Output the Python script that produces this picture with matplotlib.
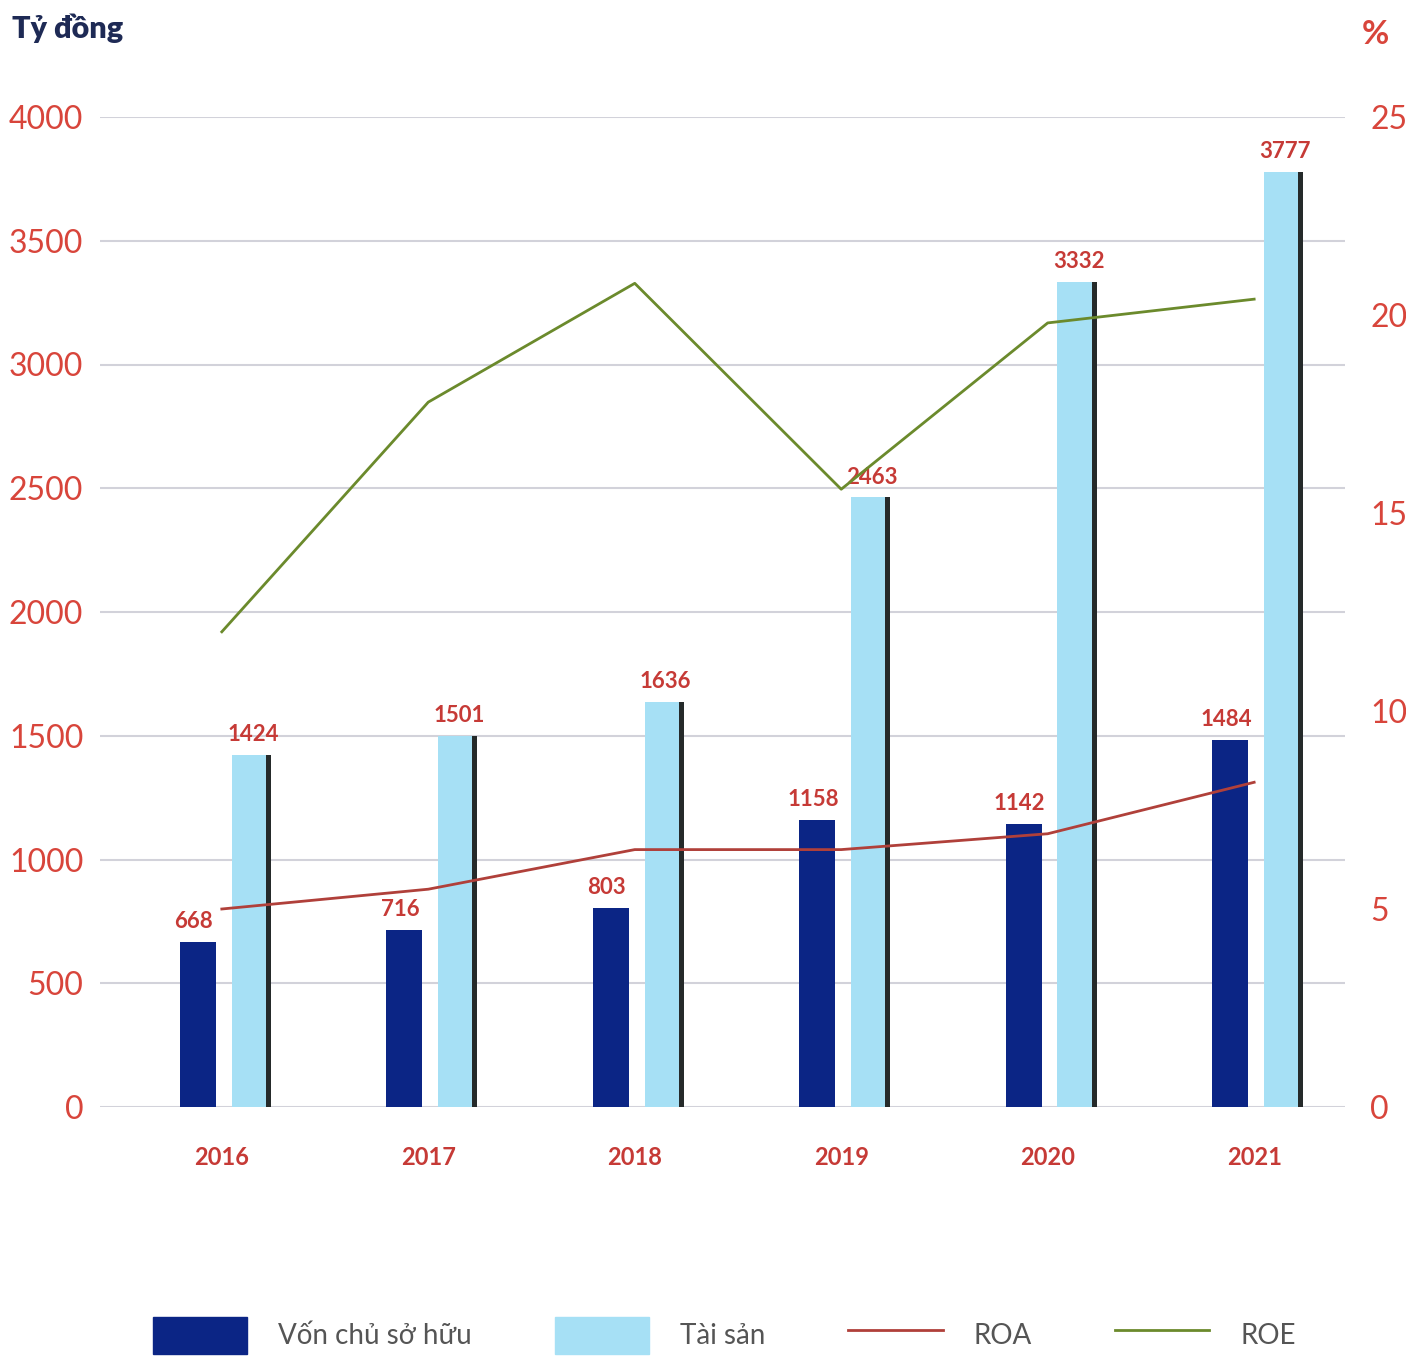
import numpy as np
import matplotlib.pyplot as plt
from matplotlib.patches import Patch
from matplotlib.lines import Line2D

# Data
years = ['2016', '2017', '2018', '2019', '2020', '2021']
equity = [668, 716, 803, 1158, 1142, 1484]      # Vốn chủ sở hữu (tỷ đồng)
assets = [1424, 1501, 1636, 2463, 3332, 3777]   # Tài sản (tỷ đồng)
roa = [5.0, 5.5, 6.5, 6.5, 6.9, 8.2]            # %
roe = [12.0, 17.8, 20.8, 15.6, 19.8, 20.4]      # %
left_ticks = [0, 500, 1000, 1500, 2000, 2500, 3000, 3500, 4000]
right_ticks = [0, 5, 10, 15, 20, 25]

navy = '#0b2585'
light = '#a6e0f5'
red = '#d8453b'
lbl_red = '#c63a36'
roa_col = '#b0403a'
roe_col = '#6b8a2c'

plt.rcParams['font.family'] = ['Lato', 'DejaVu Sans']

fig = plt.figure(figsize=(14.06, 13.57), dpi=100)
ax = fig.add_axes([100/1406, 250/1357, 1245/1406, 990/1357])
ax2 = ax.twinx()

x = np.arange(len(years))
w_dark = 0.174
w_light = 0.165
off_dark = -0.116
off_light = 0.13

ax.bar(x + off_dark, equity, w_dark, color=navy, zorder=3)
ax.bar(x + off_light, assets, w_light, color=light, zorder=3)
# dark shadow on the right side of the asset bars
ax.bar(x + off_light + w_light/2 + 0.012, assets, 0.024, color='#252a2a', zorder=3)

for i in range(len(years)):
    ax.text(x[i] + off_dark - 0.02, equity[i] + 40, str(equity[i]), ha='center', va='bottom',
            color=lbl_red, fontsize=16, fontweight='bold', zorder=5)
    ax.text(x[i] + off_light + 0.02, assets[i] + 40, str(assets[i]), ha='center', va='bottom',
            color=lbl_red, fontsize=16, fontweight='bold', zorder=5)

ax.set_xlim(-0.59, 5.44)
ax.set_ylim(0, 4000)
ax.set_yticks(left_ticks)
ax.set_yticklabels([str(t) for t in left_ticks])
ax.yaxis.grid(True, color='#d2d2da', lw=1.5, zorder=0)
ax.set_axisbelow(True)
ax.tick_params(axis='y', length=0, pad=12, labelsize=23, labelcolor=red)
ax.set_xticks(x)
ax.set_xticklabels(years)
ax.tick_params(axis='x', length=0, pad=28, labelsize=17, labelcolor=lbl_red)
for t in ax.get_xticklabels():
    t.set_fontweight('bold')

ax2.plot(x, roe, color=roe_col, lw=2, zorder=4)
ax2.plot(x, roa, color=roa_col, lw=2, zorder=4)
ax2.set_ylim(0, 25)
ax2.set_yticks(right_ticks)
ax2.tick_params(axis='y', length=0, pad=18, labelsize=23, labelcolor=red)

for a in (ax, ax2):
    for s in a.spines.values():
        s.set_visible(False)

fig.text(12/1406, 1 - 28/1357, 'Tỷ đồng', ha='left', va='center', fontsize=22,
         fontweight='heavy', color='#1e2a55')
fig.text(1375/1406, 1 - 35/1357, '%', ha='center', va='center', fontsize=24,
         fontweight='bold', color=red)

handles = [Patch(color=navy), Patch(color=light),
           Line2D([], [], color=roa_col, lw=2), Line2D([], [], color=roe_col, lw=2)]
labels = ['Vốn chủ sở hữu', 'Tài sản', 'ROA', 'ROE']
leg = fig.legend(handles, labels, loc='center', bbox_to_anchor=(0.515, 0.016), ncol=4,
                 frameon=False, fontsize=20, handlelength=3.4, handleheight=1.7,
                 handletextpad=1.1, columnspacing=3.0)
for t in leg.get_texts():
    t.set_color('#555555')

fig.savefig('out.png', dpi=100)
